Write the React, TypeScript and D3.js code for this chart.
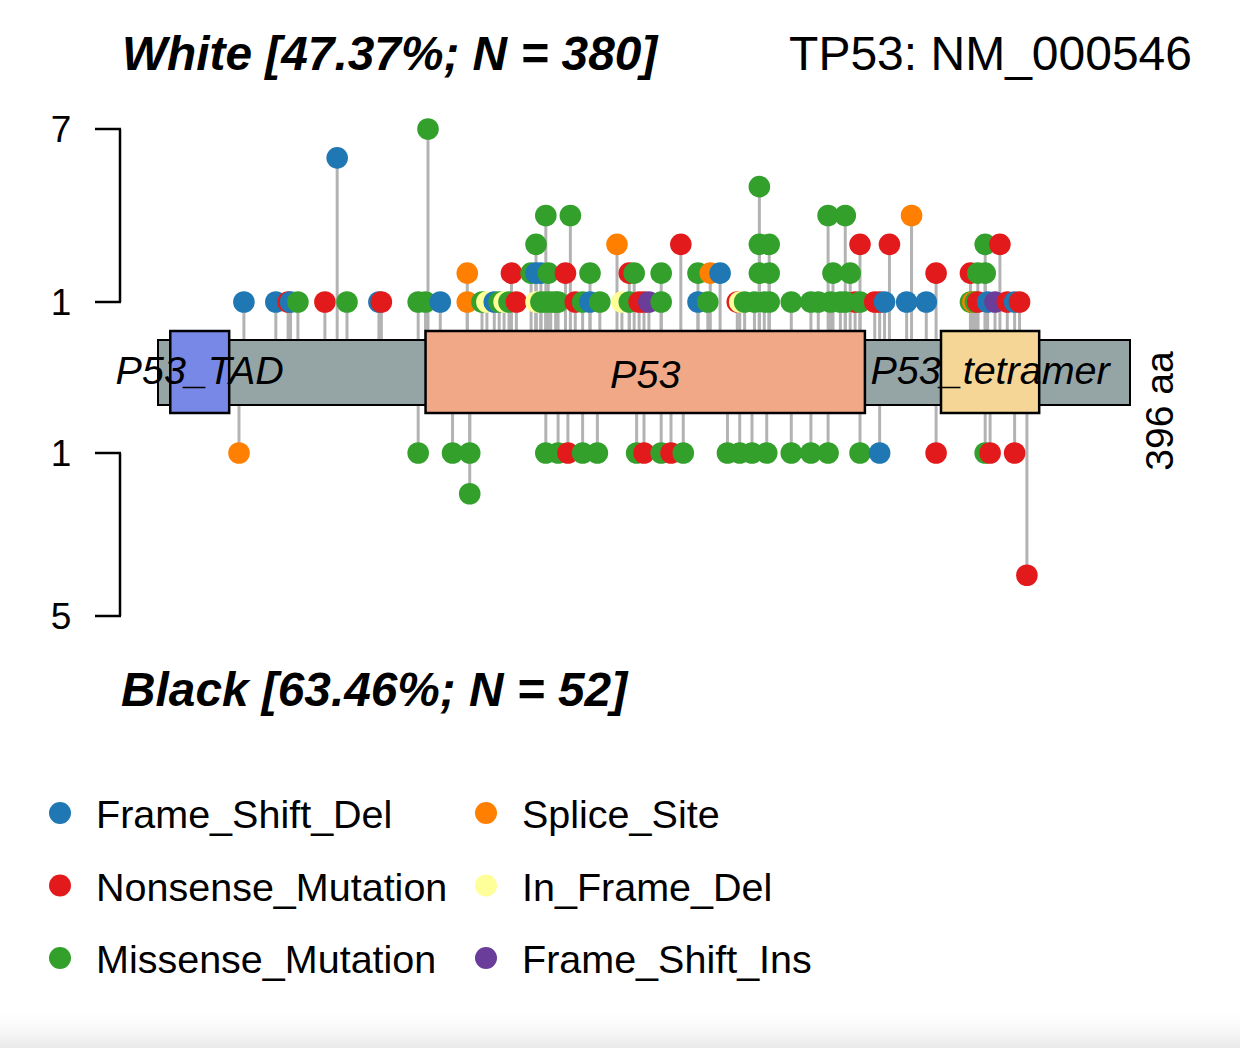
import React from "react";
import * as d3 from "d3";

const PROTEIN_LENGTH = 396;
const GENE_LABEL = "TP53: NM_000546";
const TOP_TITLE = "White [47.37%; N = 380]";
const BOTTOM_TITLE = "Black [63.46%; N = 52]";

const domainNames = ["P53_TAD", "P53", "P53_tetramer"];
const domainStarts = [5, 109, 319];
const domainEnds = [29, 288, 359];
const domainColors = ["#7888e6", "#f1a886", "#f5d696"];

const classNames = [
  "Frame_Shift_Del",
  "Splice_Site",
  "Nonsense_Mutation",
  "In_Frame_Del",
  "Missense_Mutation",
  "Frame_Shift_Ins",
];
const classColors = ["#1F78B4", "#FF7F00", "#E31A1C", "#FFFF99", "#33A02C", "#6A3D9A"];

// [aa position, count, class]
const whiteMuts: [number, number, string][] = [
  [35, 1, "Frame_Shift_Del"], [48, 1, "Frame_Shift_Del"], [53, 1, "Nonsense_Mutation"],
  [54, 1, "Frame_Shift_Del"], [57, 1, "Missense_Mutation"], [68, 1, "Nonsense_Mutation"],
  [73, 6, "Frame_Shift_Del"], [77, 1, "Missense_Mutation"], [90, 1, "Frame_Shift_Del"],
  [91, 1, "Nonsense_Mutation"], [106, 1, "Missense_Mutation"], [109, 1, "Missense_Mutation"],
  [110, 7, "Missense_Mutation"], [115, 1, "Frame_Shift_Del"], [126, 1, "Splice_Site"],
  [126, 2, "Splice_Site"], [132, 1, "Missense_Mutation"], [134, 1, "In_Frame_Del"],
  [137, 1, "Frame_Shift_Del"], [139, 1, "Missense_Mutation"], [141, 1, "In_Frame_Del"],
  [143, 1, "Missense_Mutation"], [146, 1, "Nonsense_Mutation"], [144, 2, "Nonsense_Mutation"],
  [154, 1, "In_Frame_Del"], [156, 1, "Missense_Mutation"], [158, 1, "Missense_Mutation"],
  [160, 1, "Missense_Mutation"], [162, 1, "Missense_Mutation"], [163, 1, "Missense_Mutation"],
  [152, 2, "Missense_Mutation"], [154, 2, "Frame_Shift_Del"], [156, 2, "Frame_Shift_Del"],
  [159, 2, "Missense_Mutation"], [154, 3, "Missense_Mutation"], [158, 4, "Missense_Mutation"],
  [168, 4, "Missense_Mutation"], [166, 2, "Nonsense_Mutation"], [170, 1, "Nonsense_Mutation"],
  [173, 1, "Missense_Mutation"], [176, 1, "Frame_Shift_Del"], [180, 1, "Missense_Mutation"],
  [176, 2, "Missense_Mutation"], [187, 3, "Splice_Site"], [192, 2, "Nonsense_Mutation"],
  [194, 2, "Missense_Mutation"], [189, 1, "In_Frame_Del"], [192, 1, "Missense_Mutation"],
  [196, 1, "Nonsense_Mutation"], [198, 1, "Nonsense_Mutation"], [200, 1, "Frame_Shift_Ins"],
  [205, 1, "Missense_Mutation"], [205, 2, "Missense_Mutation"], [213, 3, "Nonsense_Mutation"],
  [220, 1, "Frame_Shift_Del"], [224, 1, "Missense_Mutation"], [220, 2, "Missense_Mutation"],
  [225, 2, "Splice_Site"], [229, 2, "Frame_Shift_Del"], [236, 1, "Nonsense_Mutation"],
  [237, 1, "In_Frame_Del"], [239, 1, "Missense_Mutation"], [243, 1, "Missense_Mutation"],
  [247, 1, "Missense_Mutation"], [249, 1, "Missense_Mutation"], [258, 1, "Missense_Mutation"],
  [266, 1, "Missense_Mutation"], [269, 1, "Missense_Mutation"], [274, 1, "Missense_Mutation"],
  [278, 1, "Missense_Mutation"], [284, 1, "Nonsense_Mutation"], [280, 1, "Missense_Mutation"],
  [245, 2, "Missense_Mutation"], [249, 2, "Missense_Mutation"], [245, 3, "Missense_Mutation"],
  [249, 3, "Missense_Mutation"], [245, 5, "Missense_Mutation"], [273, 4, "Missense_Mutation"],
  [280, 4, "Missense_Mutation"], [275, 2, "Missense_Mutation"], [282, 2, "Missense_Mutation"],
  [286, 3, "Nonsense_Mutation"], [298, 3, "Nonsense_Mutation"], [307, 4, "Splice_Site"],
  [317, 2, "Nonsense_Mutation"], [286, 1, "Missense_Mutation"], [292, 1, "Nonsense_Mutation"],
  [294, 1, "Nonsense_Mutation"], [296, 1, "Frame_Shift_Del"], [305, 1, "Frame_Shift_Del"],
  [313, 1, "Frame_Shift_Del"], [331, 1, "Missense_Mutation"], [332, 1, "Splice_Site"],
  [333, 1, "Missense_Mutation"], [334, 1, "Nonsense_Mutation"], [338, 1, "Frame_Shift_Del"],
  [341, 1, "Frame_Shift_Ins"], [346, 1, "Nonsense_Mutation"], [349, 1, "Frame_Shift_Del"],
  [351, 1, "Nonsense_Mutation"], [331, 2, "Nonsense_Mutation"], [334, 2, "Missense_Mutation"],
  [337, 2, "Missense_Mutation"], [337, 3, "Missense_Mutation"], [343, 3, "Nonsense_Mutation"],
];

const blackMuts: [number, number, string][] = [
  [33, 1, "Splice_Site"], [106, 1, "Missense_Mutation"], [120, 1, "Missense_Mutation"],
  [127, 1, "Missense_Mutation"], [127, 2, "Missense_Mutation"], [158, 1, "Missense_Mutation"],
  [163, 1, "Missense_Mutation"], [167, 1, "Nonsense_Mutation"], [173, 1, "Missense_Mutation"],
  [179, 1, "Missense_Mutation"], [195, 1, "Missense_Mutation"], [198, 1, "Nonsense_Mutation"],
  [205, 1, "Missense_Mutation"], [209, 1, "Nonsense_Mutation"], [214, 1, "Missense_Mutation"],
  [232, 1, "Missense_Mutation"], [237, 1, "Missense_Mutation"], [242, 1, "Missense_Mutation"],
  [248, 1, "Missense_Mutation"], [258, 1, "Missense_Mutation"], [266, 1, "Missense_Mutation"],
  [273, 1, "Missense_Mutation"], [286, 1, "Missense_Mutation"], [294, 1, "Frame_Shift_Del"],
  [317, 1, "Nonsense_Mutation"], [337, 1, "Missense_Mutation"], [339, 1, "Nonsense_Mutation"],
  [349, 1, "Nonsense_Mutation"], [354, 4, "Nonsense_Mutation"],
];

const topTicks = [1, 7];
const bottomTicks = [1, 5];

const legendOrder = [
  "Frame_Shift_Del", "Nonsense_Mutation", "Missense_Mutation",
  "Splice_Site", "In_Frame_Del", "Frame_Shift_Ins",
];

const FONT = "'Liberation Sans', Arial, Helvetica, sans-serif";

export default function App() {
  const W = 1240, H = 1048;
  const x = d3.scaleLinear().domain([0, PROTEIN_LENGTH]).range([158, 1130]);
  const yTop = d3.scaleLinear().domain([1, 7]).range([302, 129]);
  const yBot = d3.scaleLinear().domain([1, 5]).range([453, 616]);
  const color = d3.scaleOrdinal<string, string>().domain(classNames).range(classColors);

  const barTop = 340, barBot = 405, barMid = 372;
  const domTop = 331, domBot = 413;
  const r = 10.8;

  const axis = (scale: d3.ScaleLinear<number, number>, ticks: number[]) => {
    const [a, b] = scale.range();
    return (
      <g>
        <line x1={120} x2={120} y1={a} y2={b} stroke="#000" strokeWidth={2.5} />
        {ticks.map((t) => (
          <g key={t}>
            <line x1={95} x2={121} y1={scale(t)} y2={scale(t)} stroke="#000" strokeWidth={2.5} />
            <text x={61} y={scale(t) + 13} textAnchor="middle" fontSize={37}>{t}</text>
          </g>
        ))}
      </g>
    );
  };

  const lollipops = (muts: [number, number, string][], scale: d3.ScaleLinear<number, number>) => (
    <g>
      {muts.map(([p, c], i) => (
        <line key={"s" + i} x1={x(p)} x2={x(p)} y1={barMid} y2={scale(c)} stroke="#b3b3b3" strokeWidth={3} />
      ))}
    </g>
  );
  const dots = (muts: [number, number, string][], scale: d3.ScaleLinear<number, number>) => (
    <g>
      {muts.map(([p, c, cl], i) => (
        <circle key={"d" + i} cx={x(p)} cy={scale(c)} r={r} fill={color(cl)} />
      ))}
    </g>
  );

  return (
    <div style={{ position: "absolute", left: 0, top: 0 }}>
      <svg width={W} height={H} style={{ display: "block", fontFamily: FONT }}>
        <defs>
          <linearGradient id="shade" x1="0" y1="0" x2="0" y2="1">
            <stop offset="0" stopColor="#ffffff" stopOpacity={0} />
            <stop offset="1" stopColor="#e9e9e9" stopOpacity={1} />
          </linearGradient>
        </defs>
        <rect width={W} height={H} fill="#fff" />
        <rect x={0} y={1005} width={W} height={43} fill="url(#shade)" />

        <text x={122} y={70} fontSize={47.8} fontWeight="bold" fontStyle="italic">{TOP_TITLE}</text>
        <text x={1192} y={70} fontSize={48} textAnchor="end">{GENE_LABEL}</text>
        <text x={121} y={706} fontSize={47.8} fontWeight="bold" fontStyle="italic">{BOTTOM_TITLE}</text>

        {axis(yTop, topTicks)}
        {axis(yBot, bottomTicks)}

        {lollipops(whiteMuts, yTop)}
        {lollipops(blackMuts, yBot)}

        <rect x={x(0)} y={barTop} width={x(PROTEIN_LENGTH) - x(0)} height={barBot - barTop}
          fill="#95a5a6" stroke="#000" strokeWidth={2} />
        {domainNames.map((n, i) => (
          <rect key={n} x={x(domainStarts[i])} y={domTop} width={x(domainEnds[i]) - x(domainStarts[i])}
            height={domBot - domTop} fill={domainColors[i]} stroke="#000" strokeWidth={2.5} />
        ))}
        {domainNames.map((n, i) => (
          <text key={"l" + n} x={(x(domainStarts[i]) + x(domainEnds[i])) / 2} y={n === "P53" ? 388 : 384}
            textAnchor="middle" fontSize={39.5} fontStyle="italic">{n}</text>
        ))}

        {dots(whiteMuts, yTop)}
        {dots(blackMuts, yBot)}

        <text transform="translate(1173,411) rotate(-90)" textAnchor="middle" fontSize={39}>
          {PROTEIN_LENGTH} aa
        </text>

        {legendOrder.map((cl, i) => {
          const col = Math.floor(i / 3), row = i % 3;
          const cx = col === 0 ? 60 : 486;
          const cy = 813 + row * 72.5;
          return (
            <g key={cl}>
              <circle cx={cx} cy={cy} r={11} fill={color(cl)} />
              <text x={cx + 36} y={cy + 15} fontSize={39.5}>{cl}</text>
            </g>
          );
        })}
      </svg>
    </div>
  );
}
